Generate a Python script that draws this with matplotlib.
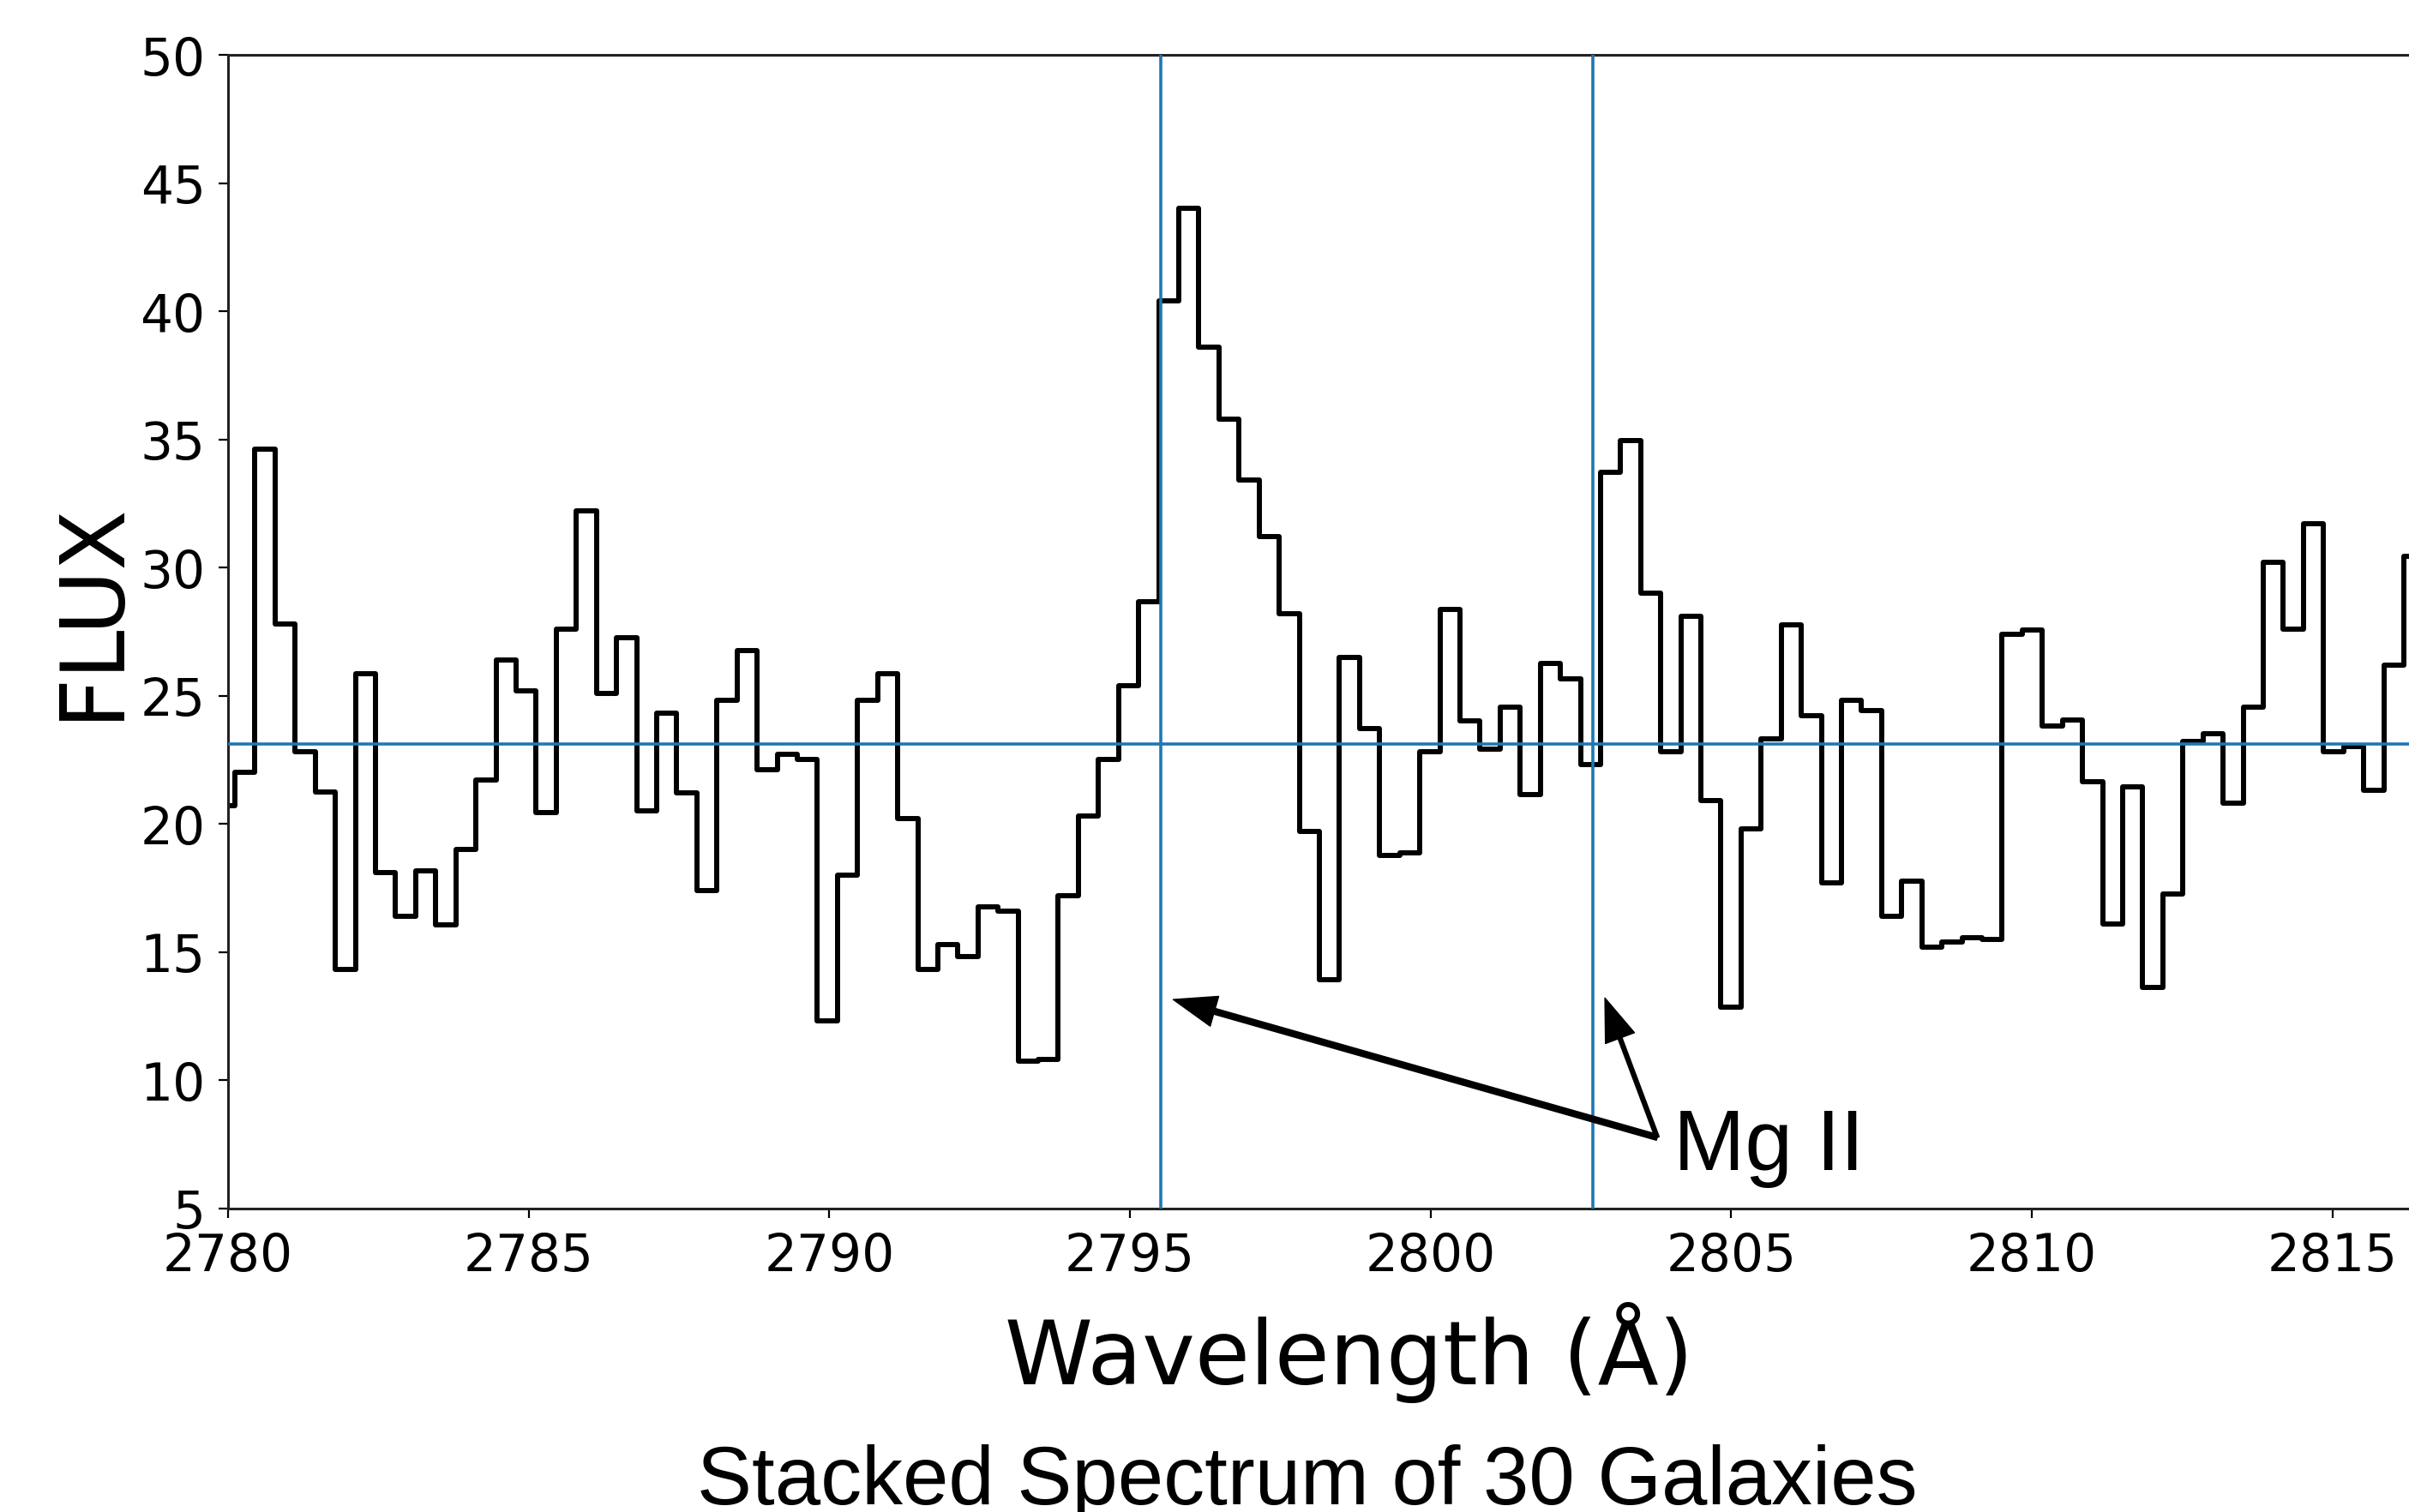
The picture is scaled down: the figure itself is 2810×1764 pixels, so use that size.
import matplotlib.pyplot as plt
import numpy as np

# --- Data ---
# flux in each wavelength bin, left to right
flux = [20.7, 22.0, 34.6, 27.8, 22.8, 21.25, 14.3, 25.85, 18.1, 16.4,
        18.15, 16.06, 19.0, 21.7, 26.4, 25.2, 20.45, 27.6, 32.2, 25.1,
        27.25, 20.5, 24.3, 21.2, 17.4, 24.8, 26.75, 22.1, 22.7, 22.5,
        12.3, 18.0, 24.8, 25.85, 20.2, 14.3, 15.3, 14.8, 16.75, 16.6,
        10.75, 10.8, 17.2, 20.3, 22.5, 25.4, 28.65, 40.4, 44.0, 38.6,
        35.8, 33.4, 31.2, 28.2, 19.7, 13.9, 26.5, 23.7, 18.75, 18.85,
        22.8, 28.35, 24.0, 22.9, 24.55, 21.15, 26.25, 25.65, 22.3, 33.7,
        34.95, 29.0, 22.8, 28.1, 20.9, 12.85, 19.8, 23.3, 27.75, 24.2,
        17.7, 24.8, 24.4, 16.4, 17.75, 15.2, 15.4, 15.55, 15.5, 27.4,
        27.55, 23.8, 24.05, 21.65, 16.1, 21.45, 13.6, 17.25, 23.2, 23.5,
        20.8, 24.55, 30.2, 27.6, 31.7, 22.8, 23.0, 21.3, 26.2, 30.45]
wave_start = 2779.948   # centre of first bin (A)
bin_width = 0.334       # A per bin
wave = wave_start + bin_width * np.arange(len(flux))

mean_flux = 23.1
mg_lines = [2795.52, 2802.70]
x_ticks = [2780, 2785, 2790, 2795, 2800, 2805, 2810, 2815]
y_ticks = [5, 10, 15, 20, 25, 30, 35, 40, 45, 50]

# --- Plotting ---
W, H = 2810, 1765
fig = plt.figure(figsize=(W / 100, H / 100), dpi=100)
# axes runs past the right edge of the figure (cropped plot)
left, right = 266 / W, 2882 / W
bottom, top = 1 - 1410.5 / H, 1 - 65 / H
ax = fig.add_axes([left, bottom, right - left, top - bottom])

ax.step(wave, flux, where='mid', color='black', lw=4.3, zorder=2)
ax.axhline(mean_flux, color='#1f77b4', lw=2.6, zorder=3)
for w in mg_lines:
    ax.axvline(w, color='#1f77b4', lw=2.6, zorder=3)

ax.set_xlim(2780, 2817.3)
ax.set_ylim(5, 50)
ax.set_xticks(x_ticks)
ax.set_yticks(y_ticks)
ax.tick_params(labelsize=43, length=8, width=1.6, pad=11)
for s in ax.spines.values():
    s.set_linewidth(2.2)
    s.set_color('#222222')

ax.set_xlabel('Wavelength (Å)', fontsize=75, va='baseline')
ax.xaxis.set_label_coords(0.5, -(1615 - 1410.5) / 1345.5)
ax.set_ylabel('FLUX', fontsize=74, va='baseline')
ax.yaxis.set_label_coords(-(266 - 136) / 2616, (1410.5 - 712) / 1345.5)

# Mg II annotation
tail = (2803.77, 7.76)
ax.annotate('', xy=(2795.72, 13.14), xytext=tail,
            arrowprops=dict(facecolor='black', edgecolor='black', width=5,
                            headwidth=26, headlength=36, shrink=0), zorder=4)
ax.annotate('', xy=(2802.90, 13.2), xytext=tail,
            arrowprops=dict(facecolor='black', edgecolor='black', width=3.5,
                            headwidth=26, headlength=36, shrink=0), zorder=4)
ax.text(2804.04, 6.52, 'Mg II', fontsize=72, family=['Liberation Sans', 'DejaVu Sans'],
        va='baseline', ha='left')

fig.text(1525 / W, 1 - 1755 / H, 'Stacked Spectrum of 30 Galaxies', fontsize=69,
         family=['Liberation Sans', 'DejaVu Sans'], ha='center', va='baseline')

fig.savefig('out.png', dpi=100)
